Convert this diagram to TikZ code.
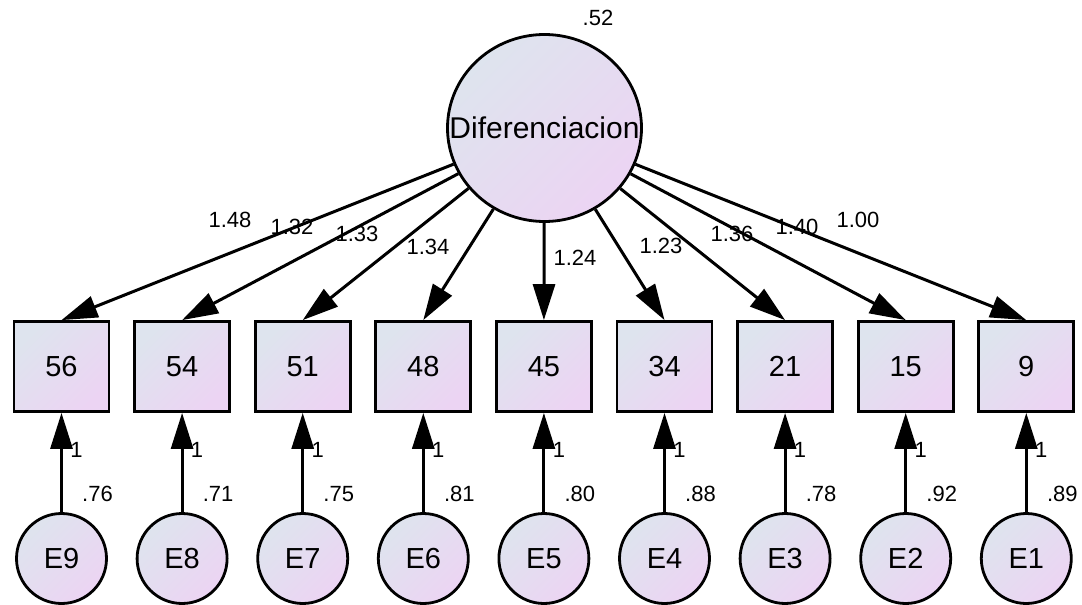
\documentclass[tikz,border=0pt]{standalone}
\usepackage{fontspec}
\setmainfont{Liberation Sans}
\usetikzlibrary{arrows.meta,shapes.geometric}
\definecolor{cA}{RGB}{222,228,238}
\definecolor{cB}{RGB}{236,212,243}
\tikzset{
  shadefill/.style={top color=cA, bottom color=cB, shading angle=45},
  latent/.style={ellipse, draw=black, line width=2.8pt, shadefill, minimum width=194pt, minimum height=187pt, inner xsep=-30pt, inner ysep=0pt, font=\fontsize{30}{36}\selectfont},
  obsbox/.style={rectangle, draw=black, line width=2.8pt, shadefill, minimum width=95pt, minimum height=90pt, inner sep=0pt, font=\fontsize{29}{34}\selectfont},
  errc/.style={circle, draw=black, line width=2.8pt, shadefill, minimum size=90pt, inner sep=0pt, font=\fontsize{29}{34}\selectfont},
  arr/.style={line width=3pt, -{Triangle[length=36pt,width=22pt]}},
  lbl/.style={inner sep=0pt, font=\fontsize{22}{26}\selectfont},
}
\begin{document}
\begin{tikzpicture}[x=1pt,y=-1pt]
\useasboundingbox (0,0) rectangle (1082,605);
\node[latent] (F) at (544.5,128) {Diferenciacion};
\node[lbl] (vF) at (598,18) {.52};
\foreach \i/\v/\e/\ev [count=\k from 0] in {56/b56/E9/.76, 54/b54/E8/.71, 51/b51/E7/.75, 48/b48/E6/.81, 45/b45/E5/.80, 34/b34/E4/.88, 21/b21/E3/.78, 15/b15/E2/.92, 9/b9/E1/.89} {
  \pgfmathsetmacro{\xx}{61.5+120.6*\k}
  \node[obsbox] (\v) at (\xx,366.5) {\i};
  \node[errc] (\e) at (\xx,558.5) {\e};
  \node[lbl] (v\e) at (\xx+36,494) {\ev};
  \node[lbl] (w\e) at (\xx+15,450) {1};
  \draw[arr] (F) -- (\v.north);
  \draw[arr] (\e) -- (\v);
}
\node[lbl] (l56) at (230,220) {1.48};
\node[lbl] (l54) at (292,227) {1.32};
\node[lbl] (l51) at (357,234) {1.33};
\node[lbl] (l48) at (428,247) {1.34};
\node[lbl] (l45) at (575,258) {1.24};
\node[lbl] (l34) at (661,246) {1.23};
\node[lbl] (l21) at (732,234) {1.36};
\node[lbl] (l15) at (797,227) {1.40};
\node[lbl] (l9) at (858,220) {1.00};
\end{tikzpicture}
\end{document}
